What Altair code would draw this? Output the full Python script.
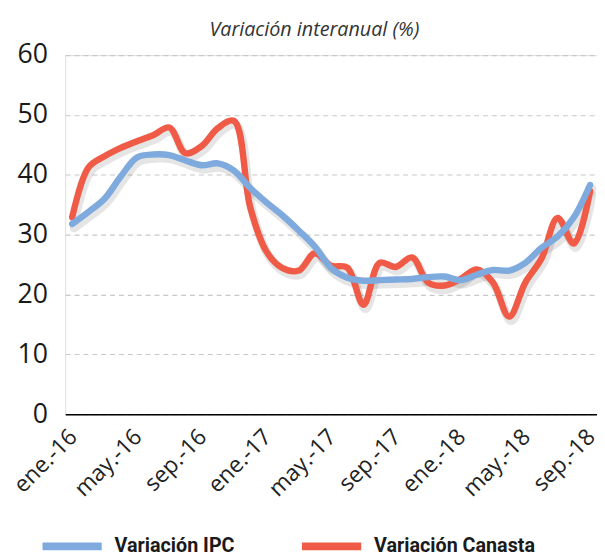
import altair as alt
import pandas as pd

# Monthly data ene.-16 .. sep.-18
months = ["ene.", "feb.", "mar.", "abr.", "may.", "jun.", "jul.", "ago.", "sep.", "oct.", "nov.", "dic."]
years = ["16", "17", "18"]
periods = [f"{m}-{y}" for y in years for m in months][:33]

ipc = [31.8, 33.8, 36.0, 39.7, 42.9, 43.4, 43.3, 42.4, 41.6, 41.9, 40.7, 37.8,
       35.4, 33.2, 30.7, 28.0, 24.4, 22.8, 22.3, 22.4, 22.5, 22.6, 22.9, 23.0,
       22.4, 23.3, 24.1, 24.0, 25.3, 27.8, 29.7, 32.9, 38.3]
canasta = [32.9, 41.2, 43.1, 44.5, 45.6, 46.6, 47.9, 43.6, 44.8, 47.8, 49.0, 34.6,
           27.2, 24.4, 24.0, 26.9, 24.8, 24.5, 18.3, 25.3, 24.6, 26.2, 22.0, 21.5,
           22.6, 24.2, 22.0, 16.3, 22.0, 26.0, 32.8, 28.5, 37.3]

series_names = ["Variación IPC", "Variación Canasta"]
series_colors = ["#7eaadd", "#ef5b46"]
tick_idx = [0, 4, 8, 12, 16, 20, 24, 28, 32]
tick_labels = [periods[i] for i in tick_idx]

rows = []
for i, p in enumerate(periods):
    rows.append({"idx": i, "periodo": p, "valor": ipc[i], "serie": series_names[0]})
    rows.append({"idx": i, "periodo": p, "valor": canasta[i], "serie": series_names[1]})
df = pd.DataFrame(rows)

label_array = "[" + ",".join(f"'{t}'" for t in tick_labels) + "]"

x_enc = alt.X(
    "idx:Q",
    scale=alt.Scale(domain=[-0.43, 32.43], nice=False, zero=False),
    axis=alt.Axis(
        values=tick_idx,
        labelExpr=f"{label_array}[round(datum.value/4)]",
        labelAngle=315,
        labelAlign="right",
        labelBaseline="middle",
        labelPadding=19,
        labelOffset=1,
        labelFont="Open Sans",
        labelFontSize=23,
        labelColor="#222222",
        labelOverlap=False,
        labelBound=False,
        labelFlush=False,
        grid=False,
        ticks=False,
        domain=True,
        domainColor="#000000",
        domainWidth=1.5,
        title=None,
    ),
)
y_enc = alt.Y(
    "valor:Q",
    scale=alt.Scale(domain=[0, 60], nice=False, zero=True),
    axis=alt.Axis(
        values=[0, 10, 20, 30, 40, 50, 60],
        grid=True,
        gridColor="#c8c8c8",
        gridDash=[5, 4],
        gridWidth=1.2,
        domain=False,
        ticks=False,
        labelFont="Open Sans",
        labelFontSize=27,
        labelColor="#1a1a1a",
        labelPadding=18,
        title=None,
    ),
)

color_scale = alt.Scale(domain=series_names, range=series_colors)

shadow = alt.Chart(df).mark_line(
    interpolate="catmull-rom", strokeWidth=9, color="#000000", opacity=0.10,
    xOffset=2, yOffset=4, strokeCap="round", strokeJoin="round"
).encode(x=x_enc, y=y_enc, detail="serie:N")

def series_layer(name):
    return alt.Chart(df).transform_filter(
        alt.datum.serie == name
    ).mark_line(
        interpolate="catmull-rom", strokeWidth=6.5, strokeCap="round", strokeJoin="round"
    ).encode(
        x=x_enc,
        y=y_enc,
        color=alt.Color(
            "serie:N",
            scale=color_scale,
            legend=alt.Legend(
                orient="none",
                legendX=-27,
                legendY=464,
                direction="horizontal",
                title=None,
                symbolType="stroke",
                symbolSize=3600,
                symbolStrokeWidth=8,
                labelFont="Roboto",
                labelFontSize=20,
                labelFontWeight="bold",
                labelColor="#1a1a1a",
                labelOffset=9,
                columnPadding=52,
                labelLimit=300,
            ),
        ),
    )

chart = alt.layer(
    shadow, series_layer(series_names[1]), series_layer(series_names[0])
).properties(
    width=539,
    height=364,
    title=alt.TitleParams(
        "Variación interanual (%)",
        font="Open Sans",
        fontSize=20,
        fontStyle="italic",
        fontWeight="normal",
        color="#333333",
        anchor="middle",
        dx=-17,
        offset=1,
    ),
    autosize=alt.AutoSizeParams(type="none"),
    padding={"left": 58, "top": 44, "right": 0, "bottom": 142},
).configure_view(stroke=None).configure(background="white")

chart.save("out.html", embed_options={"renderer": "svg", "actions": False})
